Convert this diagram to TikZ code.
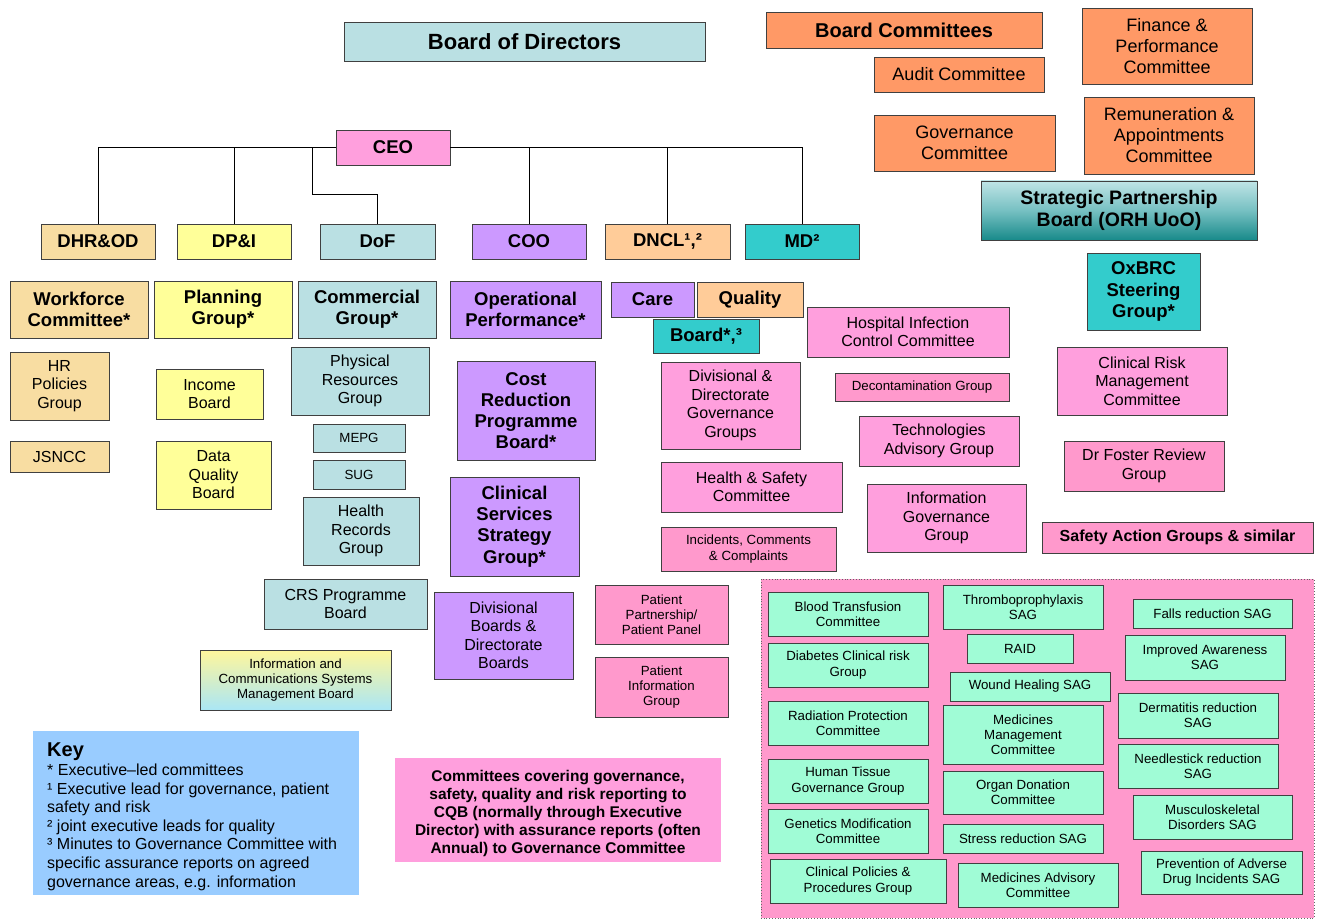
\documentclass[tikz,border=0pt]{standalone}
\usepackage{fontspec}
\setmainfont{Liberation Sans}
\definecolor{bgray}{HTML}{BAE0E3}
\definecolor{tan}{HTML}{F8DDA2}
\definecolor{yel}{HTML}{FFFF99}
\definecolor{vio}{HTML}{CC99FF}
\definecolor{lor}{HTML}{FFCC99}
\definecolor{teal1}{HTML}{33CCCC}
\definecolor{ora}{HTML}{FF9966}
\definecolor{pinkA}{HTML}{FF9FDD}
\definecolor{pinkB}{HTML}{FF99CC}
\definecolor{mint}{HTML}{A0FCD6}
\definecolor{keyblue}{HTML}{99CCFF}
\newcommand\bx[7]{\node[box,#6,minimum width={(#4-#2)*1pt},minimum height={(#5-#3)*1pt}] (#1) at ({(#2+#4)/2},{(#3+#5)/2}) {#7};}
\begin{document}
\begin{tikzpicture}[x=1pt,y=-1pt,
  box/.style={draw=black!75,line width=0.9pt,inner sep=1pt,align=center,text=black},
  fxl/.style={font=\fontsize{22}{25}\selectfont\bfseries},
  fbc/.style={font=\fontsize{20}{23}\selectfont\bfseries},
  fb/.style={font=\fontsize{18.5}{21.2}\selectfont\bfseries},
  fo/.style={font=\fontsize{18}{21}\selectfont},
  fr/.style={font=\fontsize{16}{18.5}\selectfont},
  fs/.style={font=\fontsize{13.3}{15.2}\selectfont},
  conn/.style={draw=black,line width=0.8pt}]
\useasboundingbox (0,0) rectangle (1324,920);
% top
\bx{bod}{344}{22}{705}{61}{fill=bgray,fxl}{Board of Directors}
\bx{bc}{766}{12}{1042}{48}{fill=ora,fbc}{Board Committees}
\bx{audit}{874}{57}{1044}{92}{fill=ora,fo}{Audit Committee}
\bx{fin}{1082}{8}{1252}{84}{fill=ora,fo}{Finance \&\\Performance\\Committee}
\bx{gov}{874}{115}{1055}{171}{fill=ora,fo}{Governance\\Committee}
\bx{rem}{1084}{97}{1254}{174}{fill=ora,fo}{Remuneration \&\\Appointments\\Committee}
\bx{spb}{981}{181}{1257}{240}{top color={rgb,255:red,192;green,228;blue,230},bottom color={rgb,255:red,24;green,138;blue,138},middle color={rgb,255:red,118;green,192;blue,194},fb,font=\fontsize{19.5}{22}\selectfont\bfseries}{Strategic Partnership\\Board (ORH UoO)}
\bx{oxbrc}{1087}{253}{1200}{330}{fill=teal1,fb}{OxBRC\\Steering\\Group*}
\bx{ceo}{336}{130}{450}{165}{fill=pinkA,fb}{CEO}
% directors
\bx{dhr}{41}{224}{155}{259}{fill=tan,fb}{DHR\&OD}
\bx{dpi}{177}{224}{291}{259}{fill=yel,fb}{DP\&I}
\bx{dof}{320}{224}{435}{259}{fill=bgray,fb}{DoF}
\bx{coo}{472}{224}{586}{259}{fill=vio,fb}{COO}
\bx{dncl}{605}{224}{730}{259}{fill=lor,fb}{DNCL¹,²}
\bx{md}{745}{224}{859}{259}{fill=teal1,fb}{MD²}
\coordinate (dofk) at (312,194);
\draw[conn] (ceo.west) -| (dhr.north);
\draw[conn] (ceo.west) -| (dpi.north);
\draw[conn] (ceo.west) -| (dofk) -| (dof.north);
\draw[conn] (ceo.east) -| (coo.north);
\draw[conn] (ceo.east) -| (dncl.north);
\draw[conn] (ceo.east) -| (md.north);
% second row
\bx{wf}{10}{281}{148}{338}{fill=tan,fb}{Workforce\\Committee*}
\bx{pg}{154}{281}{292}{338}{fill=yel,fb}{Planning\\Group*}
\bx{cg}{298}{281}{436}{338}{fill=bgray,fb}{Commercial\\Group*}
\bx{op}{450}{281}{601}{338}{fill=vio,fb}{Operational\\Performance*}
\bx{care}{611}{282}{694}{317}{fill=vio,fb}{Care}
\bx{qual}{697}{282}{803}{317}{fill=lor,fb}{Quality}
\bx{cqb}{653}{319}{759}{353}{fill=teal1,fb}{Board*,³}
% left columns
\bx{hrp}{10}{352}{109}{420}{fill=tan,fr}{HR\\Policies\\Group}
\bx{jsncc}{10}{441}{109}{472}{fill=tan,fr}{JSNCC}
\bx{inc}{156}{369}{263}{419}{fill=yel,fr}{Income\\Board}
\bx{dqb}{156}{441}{271}{509}{fill=yel,fr}{Data\\Quality\\Board}
\bx{prg}{291}{347}{429}{415}{fill=bgray,fr}{Physical\\Resources\\Group}
\bx{mepg}{313}{424}{405}{452}{fill=bgray,fs}{MEPG}
\bx{sug}{313}{460}{405}{489}{fill=bgray,fs}{SUG}
\bx{hrg}{303}{497}{419}{565}{fill=bgray,fr}{Health\\Records\\Group}
\bx{crs}{264}{579}{427}{629}{fill=bgray,fr}{CRS Programme\\Board}
\bx{icsm}{200}{650}{391}{710}{top color={rgb,255:red,255;green,246;blue,156},bottom color={rgb,255:red,170;green,230;blue,245},fs}{Information and\\Communications Systems\\Management Board}
% violet column
\bx{crpb}{457}{361}{595}{460}{fill=vio,fb}{Cost\\Reduction\\Programme\\Board*}
\bx{cssg}{450}{477}{579}{576}{fill=vio,fb}{Clinical\\Services\\Strategy\\Group*}
\bx{dbdb}{434}{592}{573}{679}{fill=vio,fr}{Divisional\\Boards \&\\Directorate\\Boards}
% pink middle
\bx{ddgg}{661}{362}{800}{449}{fill=pinkA,fr}{Divisional \&\\Directorate\\Governance\\Groups}
\bx{hsc}{661}{462}{842}{512}{fill=pinkA,fr}{Health \& Safety\\Committee}
\bx{icc}{661}{527}{836}{571}{fill=pinkB,fs}{Incidents, Comments\\\& Complaints}
\bx{ppp}{595}{585}{728}{644}{fill=pinkB,fs}{Patient\\Partnership/\\Patient Panel}
\bx{pig}{595}{657}{728}{717}{fill=pinkB,fs}{Patient\\Information\\Group}
% pink right
\bx{hicc}{807}{307}{1009}{357}{fill=pinkA,fr}{Hospital Infection\\Control Committee}
\bx{decon}{835}{373}{1009}{401}{fill=pinkB,fs}{Decontamination Group}
\bx{tag}{859}{416}{1019}{466}{fill=pinkA,fr}{Technologies\\Advisory Group}
\bx{igg}{867}{484}{1026}{552}{fill=pinkA,fr}{Information\\Governance\\Group}
\bx{crmc}{1057}{347}{1227}{415}{fill=pinkA,fr}{Clinical Risk\\Management\\Committee}
\bx{dfrg}{1064}{441}{1224}{491}{fill=pinkB,fr}{Dr Foster Review\\Group}
\bx{sag}{1042}{522}{1313}{553}{fill=pinkB,font=\fontsize{16}{18}\selectfont\bfseries}{Safety Action Groups \& similar}
% dotted region
\fill[pinkB] (761,579) rectangle (1314,918);
\draw[black!60,line width=0.8pt,dotted] (761,579) rectangle (1314,918);
\bx{btc}{768}{592}{928}{636}{fill=mint,fs}{Blood Transfusion\\Committee}
\bx{dcr}{768}{643}{928}{687}{fill=mint,fs}{Diabetes Clinical risk\\Group}
\bx{rpc}{768}{701}{928}{745}{fill=mint,fs}{Radiation Protection\\Committee}
\bx{htg}{768}{759}{928}{803}{fill=mint,fs}{Human Tissue\\Governance Group}
\bx{gmc}{768}{809}{928}{853}{fill=mint,fs}{Genetics Modification\\Committee}
\bx{cpp}{770}{859}{946}{903}{fill=mint,fs}{Clinical Policies \&\\Procedures Group}
\bx{thr}{943}{585}{1103}{629}{fill=mint,fs}{Thromboprophylaxis\\SAG}
\bx{raid}{967}{634}{1073}{663}{fill=mint,fs}{RAID}
\bx{whs}{950}{672}{1110}{701}{fill=mint,fs}{Wound Healing SAG}
\bx{mmc}{943}{705}{1103}{764}{fill=mint,fs}{Medicines\\Management\\Committee}
\bx{odc}{943}{771}{1103}{814}{fill=mint,fs}{Organ Donation\\Committee}
\bx{srs}{943}{824}{1103}{853}{fill=mint,fs}{Stress reduction SAG}
\bx{mac}{958}{863}{1118}{907}{fill=mint,fs}{Medicines Advisory\\Committee}
\bx{frs}{1133}{599}{1292}{628}{fill=mint,fs}{Falls reduction SAG}
\bx{ias}{1125}{635}{1285}{680}{fill=mint,fs}{Improved Awareness\\SAG}
\bx{drs}{1118}{693}{1278}{738}{fill=mint,fs}{Dermatitis reduction\\SAG}
\bx{nrs}{1118}{744}{1278}{788}{fill=mint,fs}{Needlestick reduction\\SAG}
\bx{msd}{1133}{795}{1292}{839}{fill=mint,fs}{Musculoskeletal\\Disorders SAG}
\bx{pad}{1141}{851}{1302}{894}{fill=mint,fs}{Prevention of Adverse\\Drug Incidents SAG}
% key
\node[fill=keyblue,minimum width=326pt,minimum height=164pt,inner sep=0pt] (keybox) at (196,813) {};
\node[anchor=north west,align=left,inner sep=0pt,font=\fontsize{16}{18.6}\selectfont] (keytext) at (47,743)
 {{\fontsize{20}{22}\selectfont\bfseries Key}\\
 * Executive–led committees\\
 ¹ Executive lead for governance, patient\\
 safety and risk\\
 ² joint executive leads for quality\\
 ³ Minutes to Governance Committee with\\
 specific assurance reports on agreed\\
 governance areas, e.g. information};
\node[fill=pinkA,minimum width=326pt,minimum height=104pt,inner sep=0pt,align=center,font=\fontsize{15.5}{18}\selectfont\bfseries] (cc) at (558,810) {};
\node[align=center,inner sep=0pt,font=\fontsize{15.5}{18}\selectfont\bfseries] (cctext) at (558,813)
 {Committees covering governance,\\safety, quality and risk reporting to\\CQB (normally through Executive\\Director) with assurance reports (often\\Annual) to Governance Committee};
\end{tikzpicture}
\end{document}
